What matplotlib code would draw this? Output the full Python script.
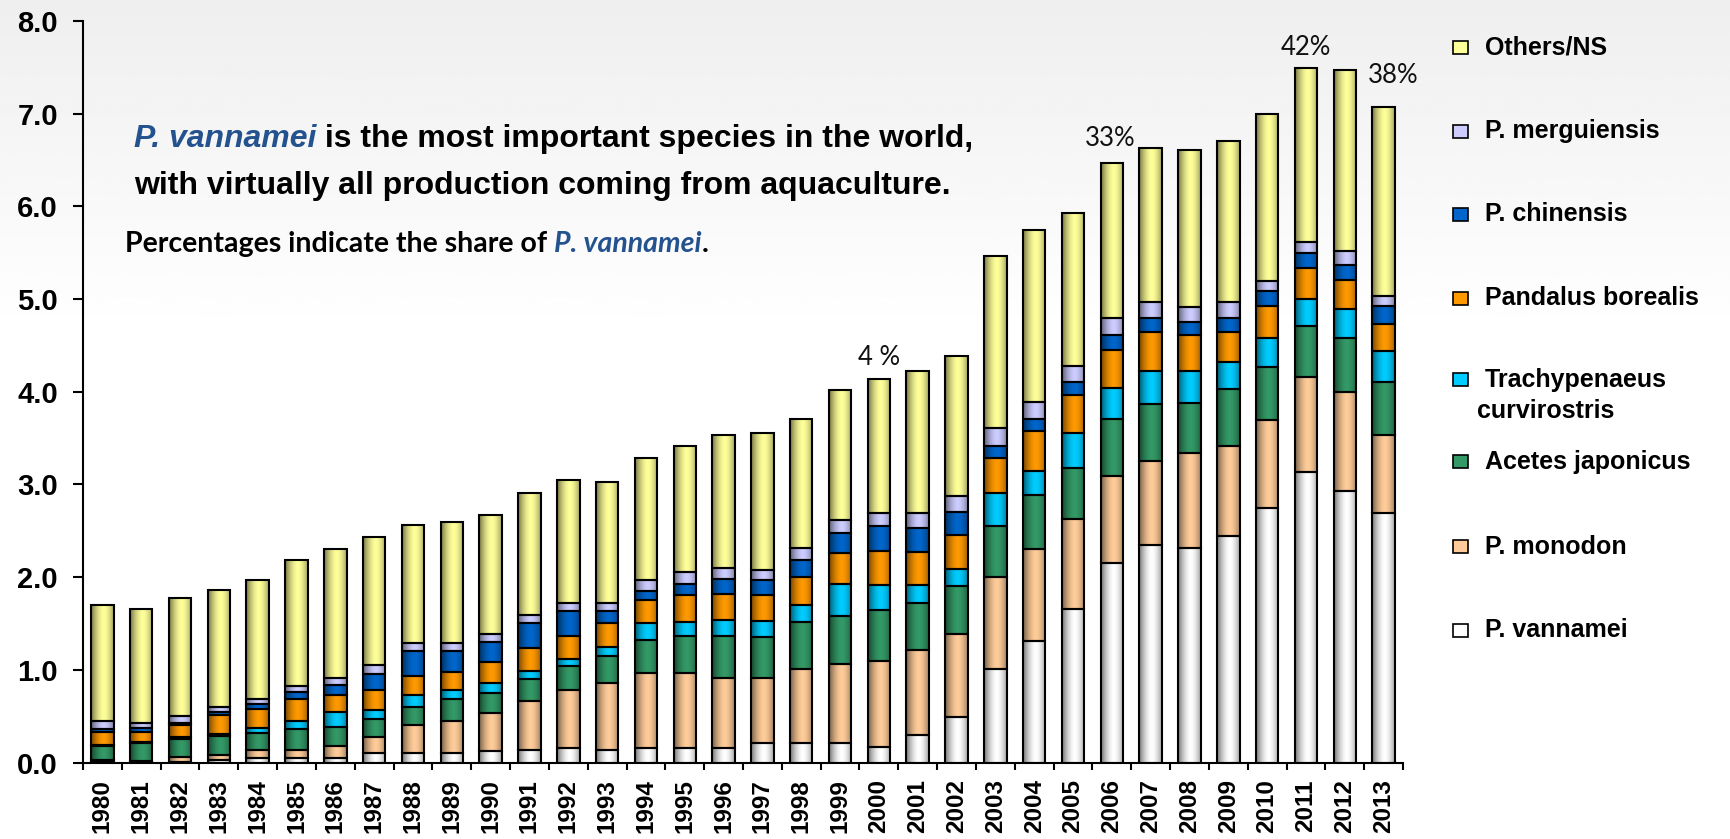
import numpy as np
import matplotlib.pyplot as plt
from matplotlib.colors import to_rgb
from matplotlib.patches import Rectangle

years = np.arange(1980, 2014)

# production by species, million tonnes (bottom of the stack first)
p_vannamei = [0.01, 0.01, 0.01, 0.03, 0.05, 0.05, 0.05, 0.10, 0.10, 0.10,
              0.12, 0.14, 0.16, 0.14, 0.16, 0.16, 0.16, 0.21, 0.21, 0.21,
              0.17, 0.30, 0.49, 1.01, 1.31, 1.66, 2.15, 2.35, 2.31, 2.44,
              2.75, 3.13, 2.93, 2.69]
p_monodon = [0.02, 0.01, 0.05, 0.05, 0.08, 0.09, 0.13, 0.17, 0.30, 0.35,
             0.41, 0.52, 0.62, 0.72, 0.81, 0.81, 0.75, 0.70, 0.80, 0.85,
             0.93, 0.91, 0.90, 0.99, 0.99, 0.97, 0.94, 0.90, 1.03, 0.98,
             0.95, 1.03, 1.07, 0.84]
acetes_japonicus = [0.15, 0.19, 0.19, 0.21, 0.19, 0.22, 0.20, 0.20, 0.20, 0.24,
                    0.22, 0.24, 0.26, 0.29, 0.35, 0.40, 0.46, 0.44, 0.51, 0.52,
                    0.55, 0.51, 0.51, 0.55, 0.59, 0.55, 0.62, 0.62, 0.54, 0.61,
                    0.57, 0.55, 0.58, 0.58]
trachypenaeus = [0.01, 0.01, 0.02, 0.02, 0.05, 0.09, 0.16, 0.10, 0.13, 0.09,
                 0.11, 0.09, 0.08, 0.10, 0.18, 0.15, 0.17, 0.18, 0.18, 0.35,
                 0.26, 0.19, 0.19, 0.36, 0.25, 0.38, 0.33, 0.35, 0.34, 0.29,
                 0.31, 0.29, 0.31, 0.33]
pandalus_borealis = [0.14, 0.11, 0.13, 0.20, 0.21, 0.24, 0.19, 0.21, 0.20, 0.20,
                     0.22, 0.25, 0.25, 0.26, 0.25, 0.29, 0.28, 0.28, 0.30, 0.33,
                     0.37, 0.36, 0.36, 0.37, 0.44, 0.41, 0.41, 0.42, 0.39, 0.32,
                     0.35, 0.33, 0.32, 0.29]
p_chinensis = [0.03, 0.04, 0.03, 0.03, 0.05, 0.07, 0.11, 0.18, 0.27, 0.22,
               0.22, 0.27, 0.26, 0.12, 0.10, 0.12, 0.16, 0.16, 0.19, 0.22,
               0.27, 0.26, 0.25, 0.14, 0.13, 0.14, 0.16, 0.16, 0.14, 0.16,
               0.16, 0.17, 0.16, 0.19]
p_merguiensis = [0.09, 0.06, 0.07, 0.06, 0.05, 0.07, 0.07, 0.09, 0.09, 0.09,
                 0.09, 0.08, 0.09, 0.09, 0.12, 0.12, 0.12, 0.11, 0.12, 0.14,
                 0.14, 0.16, 0.18, 0.19, 0.18, 0.17, 0.19, 0.17, 0.16, 0.17,
                 0.11, 0.12, 0.15, 0.11]
others_ns = [1.25, 1.23, 1.27, 1.26, 1.29, 1.36, 1.39, 1.38, 1.27, 1.30,
             1.28, 1.32, 1.33, 1.31, 1.32, 1.37, 1.43, 1.47, 1.40, 1.40,
             1.45, 1.53, 1.51, 1.85, 1.85, 1.65, 1.67, 1.66, 1.70, 1.73,
             1.80, 1.87, 1.95, 2.04]

series = [p_vannamei, p_monodon, acetes_japonicus, trachypenaeus,
          pandalus_borealis, p_chinensis, p_merguiensis, others_ns]
names = ["P. vannamei", "P. monodon", "Acetes japonicus",
         "Trachypenaeus\ncurvirostris", "Pandalus borealis", "P. chinensis",
         "P. merguiensis", "Others/NS"]
colors = ["#FFFFFF", "#FFCC99", "#339966", "#00CCFF",
          "#FF9900", "#0066CC", "#CCCCFF", "#FFFF99"]

# years whose bar carries the vannamei share
share_years = [2000, 2006, 2011, 2013]
share_fmt = ["{:.0f} %", "{:.0f}%", "{:.0f}%", "{:.0f}%"]
share_offset = [(0, 21), (-2, 24), (0, 21), (10, 32)]

W, H = 1731, 839
BLUE = "#24528F"
ARIAL = "Liberation Sans"
fig = plt.figure(figsize=(W / 100, H / 100), dpi=100)

# pale backdrop, a little greyer towards the top
bg = fig.add_axes([0, 0, 1, 1], zorder=-10)
rows = np.linspace(0, 1, 300)
g = np.clip(0.935 + 0.065 * rows / 0.4, 0, 1)
bg.imshow(np.repeat(g[:, None], 4, axis=1), cmap="gray", vmin=0, vmax=1,
          aspect="auto", extent=(0, 1, 0, 1), origin="upper")
bg.axis("off")

ax = fig.add_axes([83 / W, 1 - 762.5 / H, 1320 / W, 741.5 / H])
ax.set_facecolor("none")

x = np.arange(len(years))
width = 0.58
# horizontal shading across each bar: dark edges, bright just right of centre
t = np.linspace(0, 1, 64)
shade = 1 - 0.55 * np.clip(np.abs(t - 0.56) / 0.56, 0, 1) ** 1.7

bottom = np.zeros(len(years))
for vals, col in zip(series, colors):
    vals = np.asarray(vals, dtype=float)
    bars = ax.bar(x, vals, width, bottom=bottom, facecolor="none",
                  edgecolor="black", linewidth=1.5, zorder=3)
    strip = (np.array(to_rgb(col))[None, :] * shade[:, None])[None, :, :]
    for b in bars:
        ax.imshow(strip, extent=(b.get_x(), b.get_x() + b.get_width(),
                                 b.get_y(), b.get_y() + b.get_height()),
                  aspect="auto", interpolation="bilinear", zorder=2)
    bottom += vals
totals = bottom

ax.set_xlim(-0.5, len(years) - 0.5)
ax.set_ylim(0, 8)

for s in ["top", "right"]:
    ax.spines[s].set_visible(False)
for s in ["left", "bottom"]:
    ax.spines[s].set_linewidth(1.5)

ax.set_yticks(np.arange(0, 9))
ax.set_yticklabels([f"{v:.1f}" for v in range(0, 9)])
ax.tick_params(axis="y", direction="out", length=7, width=1.5, pad=11)
ax.set_xticks(x)
ax.set_xticklabels([str(y) for y in years], rotation=90, va="top")
ax.set_xticks(np.arange(-0.5, len(years)), minor=True)
ax.tick_params(axis="x", which="major", length=0, pad=12)
ax.tick_params(axis="x", which="minor", direction="out", length=5, width=1.5)
for lab in ax.get_yticklabels():
    lab.set_fontfamily(ARIAL)
    lab.set_fontweight("bold")
    lab.set_fontsize(21)
for lab in ax.get_xticklabels():
    lab.set_fontfamily(ARIAL)
    lab.set_fontweight("bold")
    lab.set_fontsize(17.5)

# vannamei share above selected bars
for yr, fmt, off in zip(share_years, share_fmt, share_offset):
    i = yr - years[0]
    share = p_vannamei[i] / totals[i] * 100
    ax.annotate(fmt.format(share), (x[i], totals[i]), xytext=off,
                textcoords="offset pixels", ha="center", va="center",
                fontsize=18.5, family="Lato", color="#111111")

# headline
bold = dict(fontsize=23, fontweight="bold", family=ARIAL)
h1 = fig.text(134 / W, 1 - 139 / H, "P. vannamei", color=BLUE, style="italic",
              va="center", **bold)
ax.annotate(" is the most important species in the world,", xy=(1, 0),
            xycoords=h1, va="bottom", color="black", annotation_clip=False,
            **bold)
fig.text(134 / W, 1 - 186 / H,
         "with virtually all production coming from aquaculture.",
         va="center", color="black", **bold)

note = dict(fontsize=20.5, fontweight="bold", family="Lato")
n1 = fig.text(125 / W, 1 - 244 / H, "Percentages indicate the share of ",
              va="center", color="black", **note)
n2 = ax.annotate("P. vannamei", xy=(1, 0), xycoords=n1, va="bottom",
                 color=BLUE, style="italic", annotation_clip=False, **note)
ax.annotate(".", xy=(1, 0), xycoords=n2, va="bottom", color="black",
            annotation_clip=False, **note)

# legend, top entry first
leg_y = [630, 546.5, 462, 380, 298, 214, 131, 47.5]
for name, col, yc in zip(names, colors, leg_y):
    fig.add_artist(Rectangle((1453 / W, 1 - (yc + 6.5) / H), 15 / W, 13 / H,
                             facecolor=col, edgecolor="black", linewidth=1.2,
                             transform=fig.transFigure))
    lines = name.split("\n")
    fig.text(1485 / W, 1 - yc / H, lines[0], va="center", ha="left",
             fontsize=18, fontweight="bold", family=ARIAL)
    for k, extra in enumerate(lines[1:], start=1):
        fig.text(1477 / W, 1 - (yc + 31 * k) / H, extra, va="center",
                 ha="left", fontsize=18, fontweight="bold", family=ARIAL)

fig.savefig("out.png", dpi=100)
